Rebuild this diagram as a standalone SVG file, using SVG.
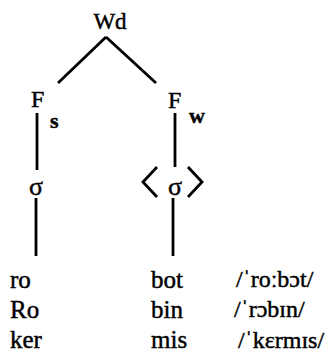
<svg xmlns="http://www.w3.org/2000/svg" width="335" height="358" viewBox="0 0 335 358">
<style>
text{font-family:'Liberation Serif','Times New Roman',Tinos,'DejaVu Serif',serif;fill:#000;stroke:#000;stroke-width:0.45}
.lbl{font-size:24px}
.top{font-size:23px}
.sub{font-size:22px;font-weight:bold}
.sig{font-size:26px}
.row{font-size:25px}
.ipa{font-size:24px}
.c{stroke:#000;stroke-width:2.8;fill:none;stroke-linecap:butt;stroke-linejoin:miter}
</style>
<rect width="335" height="358" fill="#fff"/>
<g id="connectors">
<line class="c" x1="106" y1="37" x2="58" y2="83"/>
<line class="c" x1="106" y1="37" x2="156" y2="83"/>
<line class="c" x1="37" y1="113" x2="37" y2="170"/>
<line class="c" x1="175" y1="113" x2="175" y2="167"/>
<line class="c" x1="36" y1="198" x2="36" y2="256"/>
<line class="c" x1="173" y1="198" x2="173" y2="256"/>
</g>
<g font-family="Liberation Serif, Times New Roman, serif">
<g id="node-wd"><text class="top" x="110" y="29" text-anchor="middle">Wd</text></g>
<g id="node-fs"><text class="lbl" x="31" y="107">F</text><text class="sub" x="50" y="128">s</text></g>
<g id="node-fw"><text class="lbl" x="168" y="108">F</text><text class="sub" x="189" y="123">w</text></g>
<g id="node-sigma-s"><text class="sig" x="36" y="195" text-anchor="middle">σ</text></g>
<g id="node-sigma-w">
<polyline class="c" points="157,167 143,182 157,197"/>
<polyline class="c" points="188,167 202,182 188,197"/>
<text class="sig" x="175" y="195" text-anchor="middle">σ</text>
</g>
<g id="words">
<text class="row" x="10" y="288">ro</text>
<text class="row" x="10" y="318">Ro</text>
<text class="row" x="10" y="348">ker</text>
<text class="row" x="151" y="288">bot</text>
<text class="row" x="151" y="318">bin</text>
<text class="row" x="151" y="348">mis</text>
<text class="ipa" x="236" y="287">/ˈroːbɔt/</text>
<text class="ipa" x="234" y="317">/ˈrɔbɪn/</text>
<text class="ipa" x="238" y="348">/ˈkɛrmɪs/</text>
</g>
</g>
</svg>
